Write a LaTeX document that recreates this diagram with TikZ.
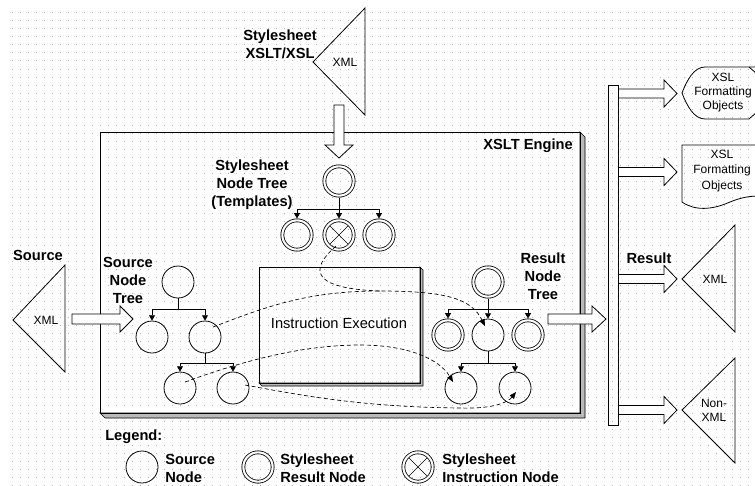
\documentclass[tikz,border=0pt]{standalone}
\usepackage{fontspec}
\setmainfont{Liberation Sans}
\usetikzlibrary{arrows.meta,calc}
\tikzset{
  lbl/.style={font=\bfseries\fontsize{11}{13.5}\selectfont, align=center, inner sep=0pt},
  sml/.style={font=\fontsize{9}{10.5}\selectfont, align=center, inner sep=0pt},
  snode/.style={circle, draw, minimum size=24pt, inner sep=0pt, line width=0.6pt},
  dnode/.style={circle, draw, double=white, double distance=1.6pt, minimum size=22pt, inner sep=0pt, outer sep=1.4pt, line width=0.6pt},
  xnode/.style={dnode, path picture={\draw[line width=0.5pt] (path picture bounding box.south west) -- (path picture bounding box.north east) (path picture bounding box.north west) -- (path picture bounding box.south east);}},
  hollow/.style={draw, fill=white, line width=0.6pt, line join=miter},
  outline/.style={draw, line width=0.6pt},
  tedge/.style={line width=0.6pt},
  tarrow/.style={-{Triangle[length=4pt,width=4.5pt]}, line width=0.6pt},
  flow/.style={line width=0.5pt, dash pattern=on 3pt off 2pt},
  flowarrow/.style={flow, -{Triangle[length=5pt,width=4pt]}},
  shadow/.style={fill=gray!55, draw, line width=0.5pt}
}
\begin{document}
\begin{tikzpicture}[x=0.75pt,y=-0.75pt]
\useasboundingbox (0,0) rectangle (755,485);
% dotted grid
\foreach \yy in {13,21,...,485}
  \draw[gray!60, line width=0.75pt, dash pattern=on 0.75pt off 5.25pt] (12,\yy) -- (755,\yy);

% stylesheet document
\draw[outline] (313,62) -- (365,8) -- (365,115) -- cycle;
\node[sml] (xmlS) at (345,62) {XML};
\node[lbl] (styT) at (280,44) {Stylesheet\\XSLT/XSL};

% XSLT engine box
\draw[shadow] (580,132) -- (585,137) -- (585,418) -- (105,418) -- (100,413) -- (580,413) -- cycle;
\draw[outline, fill=none] (100,132) rectangle (580,413);
\node[lbl, anchor=east] (eng) at (573,146) {XSLT Engine};

% arrow stylesheet -> engine
\draw[hollow] (334,105) -- (344,105) -- (344,145) -- (353,145) -- (339,158) -- (325,145) -- (334,145) -- cycle;

% stylesheet node tree
\node[lbl] (stT) at (252,185) {Stylesheet\\Node Tree\\(Templates)};
\node[dnode] (S0) at (339,181) {};
\node[dnode] (S1) at (297,235) {};
\node[xnode] (S2) at (339,235) {};
\node[dnode] (S3) at (379,235) {};
\coordinate (sb) at (0,209);
\draw[tedge] (S0.south) -- (S0 |- sb);
\draw[tedge] (S1 |- sb) -- (S3 |- sb);
\foreach \c in {S1,S2,S3} \draw[tarrow] (\c |- sb) -- (\c.north);

% instruction execution box
\draw[shadow] (420,267) -- (423,270) -- (423,386) -- (262,386) -- (259,383) -- (420,383) -- cycle;
\draw[outline] (259,267) rectangle (420,383);
\node[font=\fontsize{11}{12}\selectfont, inner sep=0pt] (ie) at (339,323) {Instruction Execution};

% source document
\node[lbl] (srcT) at (38,255) {Source};
\draw[outline] (13,320) -- (65,265) -- (65,372) -- cycle;
\node[sml] (xmlSrc) at (46,320) {XML};
\draw[hollow] (72,314) -- (120,314) -- (120,306) -- (133,319) -- (120,332) -- (120,324) -- (72,324) -- cycle;

% source node tree
\node[lbl] (sntT) at (128,280) {Source\\Node\\Tree};
\node[snode] (A0) at (178,282) {};
\node[snode] (A1) at (152,337) {};
\node[snode] (A2) at (205,337) {};
\node[snode] (A3) at (180,388) {};
\node[snode] (A4) at (233,388) {};
\coordinate (ab1) at (0,309);
\coordinate (ab2) at (0,363);
\draw[tedge] (A0.south) -- (A0 |- ab1);
\draw[tedge] (A1 |- ab1) -- (A2 |- ab1);
\foreach \c in {A1,A2} \draw[tarrow] (\c |- ab1) -- (\c.north);
\draw[tedge] (A2.south) -- (A2 |- ab2);
\draw[tedge] (A3 |- ab2) -- (A4 |- ab2);
\foreach \c in {A3,A4} \draw[tarrow] (\c |- ab2) -- (\c.north);

% result node tree
\node[lbl] (rntT) at (543,276) {Result\\Node\\Tree};
\node[dnode] (R0) at (488,282) {};
\node[dnode] (R1) at (448,335) {};
\node[snode] (R2) at (488,335) {};
\node[dnode] (R3) at (528,335) {};
\node[snode] (R4) at (461,388) {};
\node[snode] (R5) at (515,388) {};
\coordinate (rb1) at (0,309);
\coordinate (rb2) at (0,363);
\draw[tedge] (R0.south) -- (R0 |- rb1);
\draw[tedge] (R1 |- rb1) -- (R3 |- rb1);
\foreach \c in {R1,R2,R3} \draw[tarrow] (\c |- rb1) -- (\c.north);
\draw[tedge] (R2.south) -- (R2 |- rb2);
\draw[tedge] (R4 |- rb2) -- (R5 |- rb2);
\foreach \c in {R4,R5} \draw[tarrow] (\c |- rb2) -- (\c.north);

% dashed flows
\coordinate (f1s) at (336,246);
\coordinate (f1e) at (485,326);
\draw[flow] (f1s) .. controls (318,262) and (298,288) .. (380,291);
\draw[flowarrow] (213,327) .. controls (270,305) and (310,291) .. (380,291) .. controls (450,291) and (472,300) .. (f1e);
\draw[flowarrow] (185,382) .. controls (240,362) and (300,345) .. (360,345) .. controls (410,345) and (440,360) .. (453,382);
\draw[flowarrow] (245,385) .. controls (300,395) and (360,407) .. (460,408) .. controls (495,409) and (508,402) .. (516,392);

% engine -> result
\draw[hollow] (548,314) -- (592,314) -- (592,306) -- (606,319) -- (592,332) -- (592,324) -- (548,324) -- cycle;
\node[lbl] (resT) at (649,258) {Result};

% output arrows
\foreach \cy in {93.5,172,279,410}
  \draw[hollow] (618,\cy-4.5) -- (664,\cy-4.5) -- (664,\cy-13.5) -- (677,\cy) -- (664,\cy+13.5) -- (664,\cy+4.5) -- (618,\cy+4.5);
\draw[outline] (608,85) rectangle (618,425);

% output shapes
\draw[outline] (760,67) -- (705,67) .. controls (694,67) and (687,80) .. (682,93) .. controls (687,106) and (694,119) .. (705,119) -- (749,119) -- (757,112);
\draw[outline] (749,67) -- (757,74);
\node[sml] (fo1) at (723,93) {XSL\\Formatting\\Objects};
\draw[outline] (760,145) -- (682,145) -- (682,202) .. controls (695,211) and (712,210) .. (730,202) .. controls (740,198) and (748,196) .. (760,196);
\node[sml, font=\fontsize{9}{11.5}\selectfont] (fo2) at (722,171) {XSL\\Formatting\\Objects};
\draw[outline] (682,279) -- (735,225) -- (735,332) -- cycle;
\node[sml] (xmlR) at (715,279) {XML};
\draw[outline] (682,410) -- (735,358) -- (735,463) -- cycle;
\node[sml] (nxml) at (714,410) {Non-\\XML};

% legend
\node[lbl, anchor=west] (leg) at (105,437) {Legend:};
\node[snode] (L1) at (142,467) {};
\node[lbl, anchor=west, align=left] (L1t) at (165,468) {Source\\Node};
\node[dnode] (L2) at (258,467) {};
\node[lbl, anchor=west, align=left] (L2t) at (280,468) {Stylesheet\\Result Node};
\node[xnode] (L3) at (418,467) {};
\node[lbl, anchor=west, align=left] (L3t) at (442,468) {Stylesheet\\Instruction Node};
\end{tikzpicture}
\end{document}
